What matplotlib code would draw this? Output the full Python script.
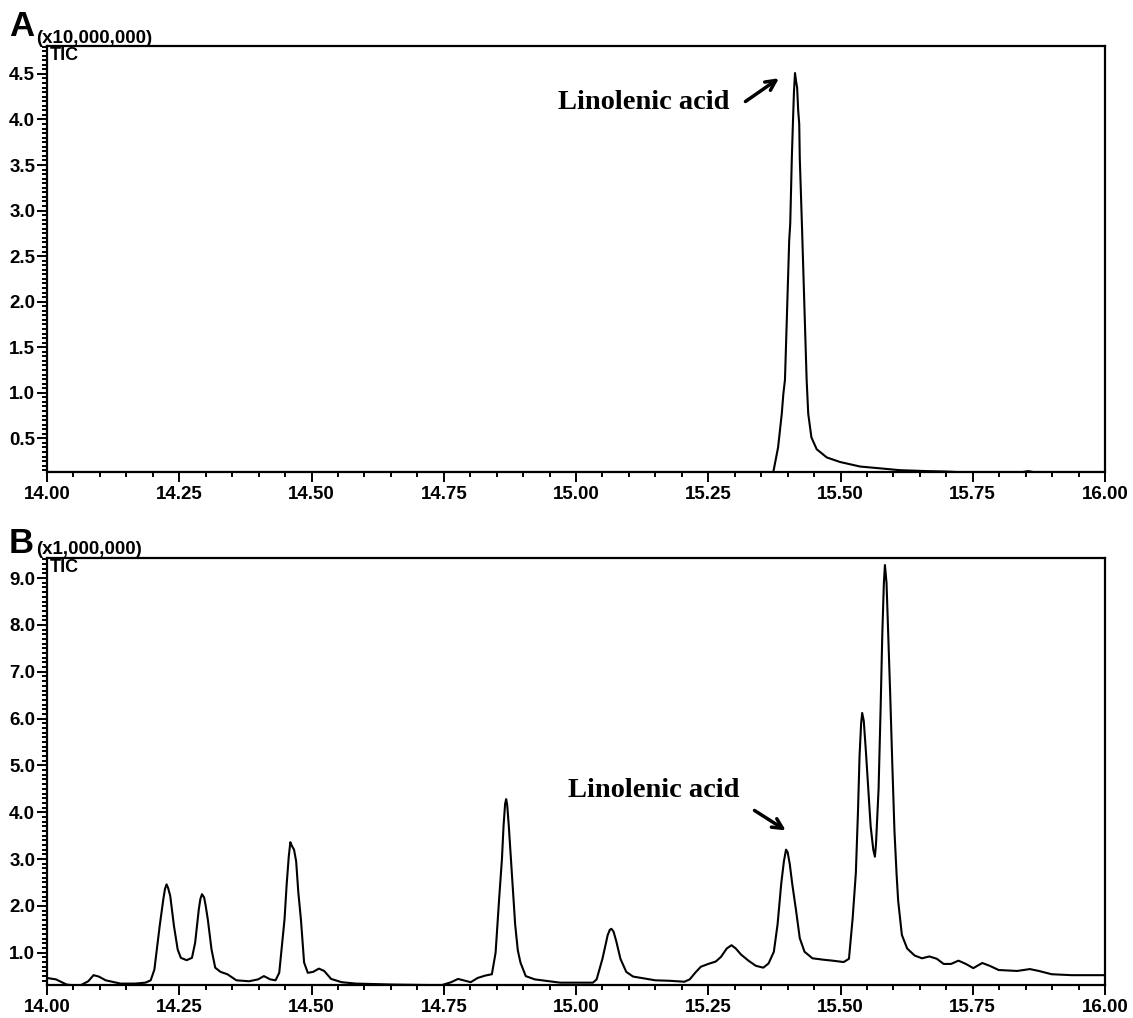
import matplotlib
matplotlib.use('Agg')
import matplotlib.pyplot as plt
from matplotlib.font_manager import FontProperties
from matplotlib.ticker import MultipleLocator, FormatStrFormatter

# Panel A: TIC (x10,000,000), retention time in min
time_a = [14.000, 15.365, 15.373, 15.382, 15.389, 15.392, 15.395, 15.399, 15.403,
          15.405, 15.408, 15.410, 15.412, 15.414, 15.416, 15.418, 15.420, 15.422,
          15.423, 15.427, 15.428, 15.432, 15.436, 15.439, 15.445, 15.455, 15.474,
          15.499, 15.537, 15.575, 15.612, 15.663, 15.701, 15.720, 15.845, 15.855,
          15.864, 16.000]
tic_a = [0.13, 0.13, 0.13, 0.40, 0.77, 0.99, 1.14, 1.90, 2.67,
         2.86, 3.58, 3.95, 4.30, 4.51, 4.42, 4.35, 4.10, 3.95,
         3.58, 2.86, 2.67, 1.90, 1.14, 0.77, 0.51, 0.38, 0.29,
         0.24, 0.19, 0.17, 0.15, 0.14, 0.135, 0.13, 0.13, 0.14,
         0.13, 0.13]

# Panel B: TIC (x1,000,000)
time_b = [14.000, 14.017, 14.037, 14.061, 14.078, 14.088, 14.098, 14.111, 14.139,
          14.166, 14.186, 14.196, 14.203, 14.213, 14.220, 14.223, 14.226, 14.229,
          14.233, 14.240, 14.247, 14.253, 14.264, 14.274, 14.280, 14.287, 14.290,
          14.293, 14.297, 14.300, 14.304, 14.311, 14.318, 14.328, 14.341, 14.358,
          14.382, 14.399, 14.410, 14.422, 14.432, 14.439, 14.449, 14.453, 14.457,
          14.460, 14.463, 14.467, 14.471, 14.475, 14.480, 14.486, 14.493, 14.503,
          14.514, 14.524, 14.537, 14.557, 14.584, 14.652, 14.720, 14.747, 14.764,
          14.777, 14.787, 14.801, 14.814, 14.828, 14.841, 14.848, 14.855, 14.860,
          14.863, 14.866, 14.868, 14.870, 14.873, 14.877, 14.881, 14.885, 14.890,
          14.895, 14.905, 14.922, 14.949, 14.970, 15.032, 15.039, 15.050, 15.060,
          15.064, 15.067, 15.071, 15.076, 15.084, 15.095, 15.108, 15.129, 15.150,
          15.177, 15.205, 15.215, 15.226, 15.236, 15.250, 15.264, 15.274, 15.285,
          15.294, 15.302, 15.312, 15.326, 15.340, 15.354, 15.364, 15.374, 15.381,
          15.388, 15.393, 15.397, 15.400, 15.404, 15.409, 15.416, 15.423, 15.432,
          15.447, 15.468, 15.485, 15.506, 15.516, 15.523, 15.529, 15.533, 15.536,
          15.539, 15.541, 15.544, 15.548, 15.552, 15.557, 15.562, 15.565, 15.567,
          15.572, 15.576, 15.579, 15.582, 15.584, 15.587, 15.590, 15.594, 15.598,
          15.602, 15.606, 15.609, 15.616, 15.626, 15.640, 15.654, 15.668, 15.682,
          15.695, 15.709, 15.723, 15.737, 15.751, 15.768, 15.782, 15.799, 15.834,
          15.858, 15.875, 15.899, 15.937, 16.000]
tic_b = [0.46, 0.43, 0.32, 0.29, 0.39, 0.52, 0.49, 0.41, 0.34,
         0.34, 0.36, 0.41, 0.64, 1.57, 2.15, 2.36, 2.46, 2.38,
         2.21, 1.57, 1.07, 0.89, 0.84, 0.89, 1.21, 1.93, 2.15,
         2.25, 2.18, 2.00, 1.71, 1.07, 0.68, 0.59, 0.54, 0.41,
         0.39, 0.43, 0.50, 0.43, 0.41, 0.57, 1.71, 2.45, 3.05,
         3.36, 3.28, 3.20, 2.95, 2.30, 1.71, 0.79, 0.57, 0.59,
         0.66, 0.61, 0.44, 0.37, 0.34, 0.32, 0.31, 0.31, 0.37,
         0.44, 0.41, 0.37, 0.46, 0.51, 0.54, 1.00, 2.20, 3.00,
         3.70, 4.18, 4.28, 4.15, 3.70, 3.00, 2.30, 1.60, 1.05,
         0.79, 0.50, 0.43, 0.39, 0.36, 0.36, 0.43, 0.87, 1.38,
         1.49, 1.51, 1.45, 1.25, 0.87, 0.59, 0.49, 0.45, 0.41,
         0.40, 0.38, 0.43, 0.58, 0.70, 0.76, 0.81, 0.91, 1.09,
         1.16, 1.09, 0.96, 0.83, 0.72, 0.68, 0.77, 1.02, 1.60,
         2.48, 2.95, 3.20, 3.15, 2.90, 2.45, 1.90, 1.31, 1.02,
         0.88, 0.85, 0.83, 0.80, 0.87, 1.74, 2.70, 4.00, 5.20,
         5.90, 6.12, 5.95, 5.30, 4.60, 3.70, 3.20, 3.05, 3.30,
         4.50, 6.30, 7.80, 8.90, 9.28, 8.90, 7.90, 6.50, 5.00,
         3.60, 2.68, 2.11, 1.38, 1.09, 0.94, 0.88, 0.92, 0.87,
         0.76, 0.76, 0.83, 0.76, 0.67, 0.78, 0.72, 0.63, 0.61,
         0.65, 0.61, 0.54, 0.52, 0.52]

W, H = 1133, 1018
fig = plt.figure(figsize=(W / 100, H / 100), dpi=100)

tick_font = dict(family='Liberation Sans', weight='bold', size=13.5)
note_font = dict(family='Liberation Serif', weight='bold', size=20.5)


def px_axes(left, top, right, bottom):
    return fig.add_axes([left / W, 1 - bottom / H, (right - left) / W, (bottom - top) / H])


def style_axes(ax, ylim, ymajor, yminor, yfmt):
    ax.set_xlim(14.0, 16.0)
    ax.set_ylim(*ylim)
    ax.xaxis.set_major_locator(MultipleLocator(0.25))
    ax.xaxis.set_minor_locator(MultipleLocator(0.05))
    ax.xaxis.set_major_formatter(FormatStrFormatter('%.2f'))
    ax.yaxis.set_major_locator(MultipleLocator(ymajor))
    ax.yaxis.set_minor_locator(MultipleLocator(yminor))
    ax.yaxis.set_major_formatter(FormatStrFormatter(yfmt))
    ax.tick_params(which='both', direction='out', width=1.4, colors='black')
    ax.tick_params(axis='x', which='major', length=7, pad=3)
    ax.tick_params(axis='x', which='minor', length=3.5)
    ax.tick_params(axis='y', which='major', length=7, pad=1.5)
    ax.tick_params(axis='y', which='minor', length=3.5)
    for lab in ax.get_xticklabels() + ax.get_yticklabels():
        lab.set_fontproperties(FontProperties(**tick_font))
    for s in ax.spines.values():
        s.set_linewidth(1.6)
    ax.text(0.003, 0.998, 'TIC', transform=ax.transAxes, ha='left', va='top',
            family='Liberation Sans', weight='bold', size=13)


# ---- Panel A ----
ax1 = px_axes(47, 45.7, 1105, 472)
ax1.plot(time_a, tic_a, color='black', linewidth=1.5)
style_axes(ax1, (0.13, 4.81), 0.5, 0.05, '%.1f')
ax1.annotate('', xy=(15.388, 4.47), xytext=(15.316, 4.18),
             arrowprops=dict(arrowstyle='->', lw=2.5, color='black', mutation_scale=18))
ax1.text(15.291, 4.19, 'Linolenic acid', ha='right', va='center', **note_font)

# ---- Panel B ----
ax2 = px_axes(47, 558, 1105, 985)
ax2.plot(time_b, tic_b, color='black', linewidth=1.5)
style_axes(ax2, (0.31, 9.43), 1.0, 0.1, '%.1f')
ax2.annotate('', xy=(15.401, 3.58), xytext=(15.333, 4.07),
             arrowprops=dict(arrowstyle='->', lw=2.5, color='black', mutation_scale=18))
ax2.text(15.310, 4.46, 'Linolenic acid', ha='right', va='center', **note_font)

# panel letters and scale factors
fig.text(9 / W, 1 - 36 / H, 'A', ha='left', va='baseline',
         family='Liberation Sans', weight='bold', size=25)
fig.text(36 / W, 1 - 43 / H, '(x10,000,000)', ha='left', va='baseline',
         family='Liberation Sans', weight='bold', size=13.5)
fig.text(9 / W, 1 - 553 / H, 'B', ha='left', va='baseline',
         family='Liberation Sans', weight='bold', size=25)
fig.text(36 / W, 1 - 554 / H, '(x1,000,000)', ha='left', va='baseline',
         family='Liberation Sans', weight='bold', size=13.5)

fig.savefig('out.png', dpi=100, facecolor='white')
